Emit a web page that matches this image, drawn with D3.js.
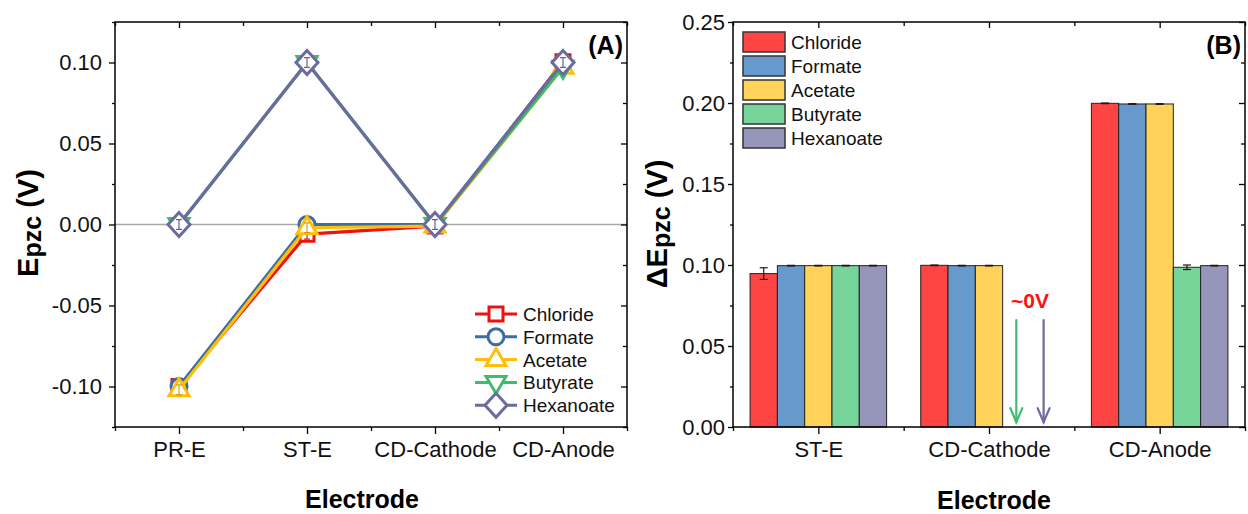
<!DOCTYPE html>
<html>
<head>
<meta charset="utf-8">
<script src="https://cdn.jsdelivr.net/npm/d3@7"></script>
<style>
  html, body { margin: 0; padding: 0; background: #fff; }
  svg { display: block; font-family: "Liberation Sans", Arial, sans-serif; }
</style>
</head>
<body>
<svg id="chart" width="1248" height="514"></svg>
<script>
// ---------- data: panel (A), Epzc per electrode ----------
const electrodesA = ["PR-E", "ST-E", "CD-Cathode", "CD-Anode"];
const anions = ["Chloride", "Formate", "Acetate", "Butyrate", "Hexanoate"];
const chlorideA  = [-0.100, -0.006, -0.001, 0.1005];
const formateA   = [-0.100,  0.000,  0.000, 0.100];
const acetateA   = [-0.102, -0.002, -0.001, 0.097];
const butyrateA  = [ 0.000,  0.100,  0.000, 0.097];
const hexanoateA = [ 0.000,  0.100,  0.000, 0.100];
const errA = [0.003, 0.003, 0.003, 0.003];
const yTicksA = [-0.10, -0.05, 0.00, 0.05, 0.10];
const yMinorA = [-0.125, -0.075, -0.025, 0.025, 0.075, 0.125];

// ---------- data: panel (B), ΔEpzc relative to PR-E ----------
const electrodesB = ["ST-E", "CD-Cathode", "CD-Anode"];
const chlorideB  = [0.0947, 0.0998, 0.1998];
const formateB   = [0.0996, 0.0996, 0.1994];
const acetateB   = [0.0996, 0.0996, 0.1994];
const butyrateB  = [0.0996, 0.0000, 0.0986];
const hexanoateB = [0.0996, 0.0000, 0.0996];
const chlorideErrB  = [0.0036, 0.0002, 0.0002];
const formateErrB   = [0.0002, 0.0002, 0.0002];
const acetateErrB   = [0.0002, 0.0002, 0.0002];
const butyrateErrB  = [0.0002, 0.0000, 0.0014];
const hexanoateErrB = [0.0002, 0.0000, 0.0002];
const yTicksB = [0.00, 0.05, 0.10, 0.15, 0.20, 0.25];
const yMinorB = [0.025, 0.075, 0.125, 0.175, 0.225];
const zeroNoteValue = 0.0735;           // "~0V" note baseline
const zeroArrowFrom = 0.066, zeroArrowTo = 0.003;

// ---------- styles ----------
const lineColors = ["#EE1111", "#3C6E9E", "#FFBE0A", "#3DBE6E", "#6B6B9E"];
const barColors  = ["#FF4444", "#6699CC", "#FFD35A", "#78D59A", "#9696BB"];
const markers = ["square", "circle", "triangle", "down", "diamond"];

const svg = d3.select("#chart");
svg.append("rect").attr("width", 1248).attr("height", 514).attr("fill", "#fff");

const fmt = v => d3.format(".2f")(v).replace("−", "-");
const FONT_TICK = 22;
const FONT_LEGEND = 19;
const FONT_YTITLE = 29, FONT_SUB = 25;

function markerPath(kind) {
  const p = d3.path();
  if (kind === "square") { p.rect(-7, -7, 14, 14); }
  else if (kind === "circle") { p.arc(0, 0, 8, 0, 2 * Math.PI); }
  else if (kind === "triangle") { p.moveTo(0, -11); p.lineTo(10, 6); p.lineTo(-10, 6); p.closePath(); }
  else if (kind === "down") { p.moveTo(0, 11); p.lineTo(10, -6); p.lineTo(-10, -6); p.closePath(); }
  else { p.moveTo(0, -12); p.lineTo(11, 0); p.lineTo(0, 12); p.lineTo(-11, 0); p.closePath(); }
  return p.toString();
}

function styleAxis(g, size) {
  g.select(".domain").remove();
  g.selectAll(".tick line").attr("stroke", "#000").attr("stroke-width", 1.3);
  g.selectAll(".tick text").attr("fill", "#111").attr("font-size", size)
    .attr("font-family", "'Liberation Sans', Arial, sans-serif");
}

// ================= Panel A =================
const A = { left: 115, right: 627, top: 22, bottom: 427 };
const xA = d3.scalePoint().domain(electrodesA).range([A.left, A.right]).padding(0.5);
const yA = d3.scaleLinear().domain([-0.125, 0.125]).range([A.bottom, A.top]);
const stepA = xA.step();
const boundsA = d3.range(electrodesA.length + 1).map(i => A.left + i * stepA);

const gA = svg.append("g");

// zero reference line
gA.append("line").attr("x1", A.left).attr("x2", A.right)
  .attr("y1", yA(0)).attr("y2", yA(0))
  .attr("stroke", "#A8A8A8").attr("stroke-width", 1.6);

// axes
gA.append("g").attr("transform", `translate(${A.left},0)`)
  .call(d3.axisLeft(yA).tickValues(yTicksA).tickFormat(fmt).tickSize(6).tickPadding(7))
  .call(g => styleAxis(g, FONT_TICK));
gA.append("g").attr("transform", `translate(${A.left},0)`)
  .call(d3.axisLeft(yA).tickValues(yMinorA).tickFormat("").tickSize(3))
  .call(g => styleAxis(g, FONT_TICK));
gA.append("g").attr("transform", `translate(${A.right},0)`)
  .call(d3.axisRight(yA).tickValues(yTicksA).tickFormat("").tickSize(-6))
  .call(g => styleAxis(g, FONT_TICK));
gA.append("g").attr("transform", `translate(${A.right},0)`)
  .call(d3.axisRight(yA).tickValues(yMinorA).tickFormat("").tickSize(-4))
  .call(g => styleAxis(g, FONT_TICK));
gA.append("g").attr("transform", `translate(0,${A.bottom})`)
  .call(d3.axisBottom(xA).tickSize(7).tickPadding(7))
  .call(g => styleAxis(g, FONT_TICK));
gA.append("g").attr("transform", `translate(0,${A.bottom})`)
  .call(d3.axisBottom(d3.scaleLinear().domain([A.left, A.right]).range([A.left, A.right]))
    .tickValues(boundsA).tickFormat("").tickSize(4))
  .call(g => styleAxis(g, FONT_TICK));
gA.append("g").attr("transform", `translate(0,${A.top})`)
  .call(d3.axisTop(xA).tickFormat("").tickSize(-6))
  .call(g => styleAxis(g, FONT_TICK));
gA.append("g").attr("transform", `translate(0,${A.top})`)
  .call(d3.axisTop(d3.scaleLinear().domain([A.left, A.right]).range([A.left, A.right]))
    .tickValues(boundsA).tickFormat("").tickSize(-4))
  .call(g => styleAxis(g, FONT_TICK));

// frame
gA.append("rect").attr("x", A.left).attr("y", A.top)
  .attr("width", A.right - A.left).attr("height", A.bottom - A.top)
  .attr("fill", "none").attr("stroke", "#000").attr("stroke-width", 1.5);

// series
const seriesA = [chlorideA, formateA, acetateA, butyrateA, hexanoateA];
const lineA = d3.line().x((d, i) => xA(electrodesA[i])).y(d => yA(d));
seriesA.forEach((vals, s) => {
  const g = gA.append("g");
  g.append("path").attr("d", lineA(vals)).attr("fill", "none")
    .attr("stroke", lineColors[s]).attr("stroke-width", 3.2).attr("stroke-linejoin", "round");
  vals.forEach((v, i) => {
    const cx = xA(electrodesA[i]), cy = yA(v);
    g.append("path").attr("d", markerPath(markers[s]))
      .attr("transform", `translate(${cx},${cy})`)
      .attr("fill", "#fff").attr("stroke", lineColors[s]).attr("stroke-width", 3);
    // error bar
    const e = errA[i];
    const eb = g.append("g").attr("stroke", d3.color(lineColors[s]).darker(0.6)).attr("stroke-width", 1.1);
    eb.append("line").attr("x1", cx).attr("x2", cx).attr("y1", yA(v - e)).attr("y2", yA(v + e));
    eb.append("line").attr("x1", cx - 3).attr("x2", cx + 3).attr("y1", yA(v + e)).attr("y2", yA(v + e));
    eb.append("line").attr("x1", cx - 3).attr("x2", cx + 3).attr("y1", yA(v - e)).attr("y2", yA(v - e));
  });
});

// legend A
const legA = gA.append("g").attr("transform", "translate(475,314)");
anions.forEach((name, s) => {
  const row = legA.append("g").attr("transform", `translate(0,${s * 22.8})`);
  row.append("line").attr("x1", 0).attr("x2", 42).attr("y1", 0).attr("y2", 0)
    .attr("stroke", lineColors[s]).attr("stroke-width", 3);
  row.append("path").attr("d", markerPath(markers[s])).attr("transform", "translate(21,0)")
    .attr("fill", "#fff").attr("stroke", lineColors[s]).attr("stroke-width", 3);
  row.append("text").attr("x", 48).attr("y", 7).attr("font-size", FONT_LEGEND).attr("fill", "#111").text(name);
});

// labels A
gA.append("text").attr("x", 623).attr("y", 54).attr("text-anchor", "end")
  .attr("font-size", 25).attr("font-weight", "bold").text("(A)");
gA.append("text").attr("x", 362).attr("y", 508).attr("text-anchor", "middle")
  .attr("font-size", 25).attr("font-weight", "bold").text("Electrode");
const tA = gA.append("text").attr("transform", "translate(38,223) rotate(-90)")
  .attr("text-anchor", "middle").attr("font-weight", "bold").attr("font-size", FONT_YTITLE);
tA.append("tspan").text("E");
tA.append("tspan").attr("font-size", FONT_SUB).attr("dy", 3).text("pzc");
tA.append("tspan").attr("dy", -3).text(" (V)");

// ================= Panel B =================
const B = { left: 733, right: 1245, top: 22, bottom: 427 };
const xB = d3.scaleBand().domain(electrodesB).range([B.left, B.right]).paddingInner(0.2).paddingOuter(0.1);
const xInner = d3.scaleBand().domain(anions).range([0, xB.bandwidth()]);
const yB = d3.scaleLinear().domain([0, 0.25]).range([B.bottom, B.top]);
const stepB = xB.step();
const boundsB = d3.range(electrodesB.length + 1).map(i => B.left + i * stepB);

const gB = svg.append("g");

const seriesB = [chlorideB, formateB, acetateB, butyrateB, hexanoateB];
const errB = [chlorideErrB, formateErrB, acetateErrB, butyrateErrB, hexanoateErrB];
electrodesB.forEach((cat, i) => {
  anions.forEach((name, s) => {
    const v = seriesB[s][i];
    const x0 = xB(cat) + xInner(name), w = xInner.bandwidth();
    gB.append("rect").attr("x", x0).attr("y", yB(v))
      .attr("width", w).attr("height", yB(0) - yB(v))
      .attr("fill", barColors[s]).attr("stroke", "#222").attr("stroke-width", 1);
    const e = errB[s][i];
    if (v > 0) {
      const cx = x0 + w / 2;
      const eb = gB.append("g").attr("stroke", "#2a1515").attr("stroke-width", 1.2);
      eb.append("line").attr("x1", cx).attr("x2", cx).attr("y1", yB(v - e)).attr("y2", yB(v + e));
      eb.append("line").attr("x1", cx - 4).attr("x2", cx + 4).attr("y1", yB(v + e)).attr("y2", yB(v + e));
      eb.append("line").attr("x1", cx - 4).attr("x2", cx + 4).attr("y1", yB(v - e)).attr("y2", yB(v - e));
    }
  });
});

// "~0V" note with arrows for the zero-height bars
const zeroCat = "CD-Cathode";
const arrowSeries = anions.filter((n, s) => seriesB[s][electrodesB.indexOf(zeroCat)] === 0);
arrowSeries.forEach(name => {
  const s = anions.indexOf(name);
  const cx = xB(zeroCat) + xInner(name) + xInner.bandwidth() / 2;
  const y1 = yB(zeroArrowFrom), y2 = yB(zeroArrowTo);
  const g = gB.append("g").attr("stroke", lineColors[s]).attr("stroke-width", 2.2)
    .attr("fill", "none").attr("stroke-linecap", "round");
  g.append("line").attr("x1", cx).attr("x2", cx).attr("y1", y1).attr("y2", y2);
  g.append("path").attr("d", `M${cx - 6},${y2 - 14} L${cx},${y2} L${cx + 6},${y2 - 14}`);
});
{
  const xs = arrowSeries.map(n => xB(zeroCat) + xInner(n) + xInner.bandwidth() / 2);
  gB.append("text").attr("x", d3.mean(xs)).attr("y", yB(zeroNoteValue))
    .attr("text-anchor", "middle").attr("font-size", 21).attr("font-weight", "bold")
    .attr("fill", "#FF1111").text("~0V");
}

// axes B
gB.append("g").attr("transform", `translate(${B.left},0)`)
  .call(d3.axisLeft(yB).tickValues(yTicksB).tickFormat(fmt).tickSize(5).tickPadding(3))
  .call(g => styleAxis(g, FONT_TICK));
gB.append("g").attr("transform", `translate(${B.left},0)`)
  .call(d3.axisLeft(yB).tickValues(yMinorB).tickFormat("").tickSize(3))
  .call(g => styleAxis(g, FONT_TICK));
gB.append("g").attr("transform", `translate(${B.right},0)`)
  .call(d3.axisRight(yB).tickValues(yTicksB).tickFormat("").tickSize(-6))
  .call(g => styleAxis(g, FONT_TICK));
gB.append("g").attr("transform", `translate(${B.right},0)`)
  .call(d3.axisRight(yB).tickValues(yMinorB).tickFormat("").tickSize(-4))
  .call(g => styleAxis(g, FONT_TICK));
const xBc = d3.scalePoint().domain(electrodesB).range([B.left, B.right]).padding(0.5);
gB.append("g").attr("transform", `translate(0,${B.bottom})`)
  .call(d3.axisBottom(xBc).tickSize(7).tickPadding(7))
  .call(g => styleAxis(g, FONT_TICK));
gB.append("g").attr("transform", `translate(0,${B.bottom})`)
  .call(d3.axisBottom(d3.scaleLinear().domain([B.left, B.right]).range([B.left, B.right]))
    .tickValues(boundsB).tickFormat("").tickSize(4))
  .call(g => styleAxis(g, FONT_TICK));
gB.append("g").attr("transform", `translate(0,${B.top})`)
  .call(d3.axisTop(xBc).tickFormat("").tickSize(-6))
  .call(g => styleAxis(g, FONT_TICK));
gB.append("g").attr("transform", `translate(0,${B.top})`)
  .call(d3.axisTop(d3.scaleLinear().domain([B.left, B.right]).range([B.left, B.right]))
    .tickValues(boundsB).tickFormat("").tickSize(-4))
  .call(g => styleAxis(g, FONT_TICK));

gB.append("rect").attr("x", B.left).attr("y", B.top)
  .attr("width", B.right - B.left).attr("height", B.bottom - B.top)
  .attr("fill", "none").attr("stroke", "#000").attr("stroke-width", 1.5);

// legend B
const legB = gB.append("g").attr("transform", "translate(743,32)");
anions.forEach((name, s) => {
  const row = legB.append("g").attr("transform", `translate(0,${s * 24})`);
  row.append("rect").attr("width", 42).attr("height", 20)
    .attr("fill", barColors[s]).attr("stroke", "#333").attr("stroke-width", 1.5);
  row.append("text").attr("x", 48).attr("y", 17).attr("font-size", FONT_LEGEND).attr("fill", "#111").text(name);
});

// labels B
gB.append("text").attr("x", 1241).attr("y", 54).attr("text-anchor", "end")
  .attr("font-size", 25).attr("font-weight", "bold").text("(B)");
gB.append("text").attr("x", 994).attr("y", 509).attr("text-anchor", "middle")
  .attr("font-size", 25).attr("font-weight", "bold").text("Electrode");
const tB = gB.append("text").attr("transform", "translate(667,224) rotate(-90)")
  .attr("text-anchor", "middle").attr("font-weight", "bold").attr("font-size", FONT_YTITLE);
tB.append("tspan").text("ΔE");
tB.append("tspan").attr("font-size", FONT_SUB).attr("dy", 3).text("pzc");
tB.append("tspan").attr("dy", -3).text(" (V)");
</script>
</body>
</html>
